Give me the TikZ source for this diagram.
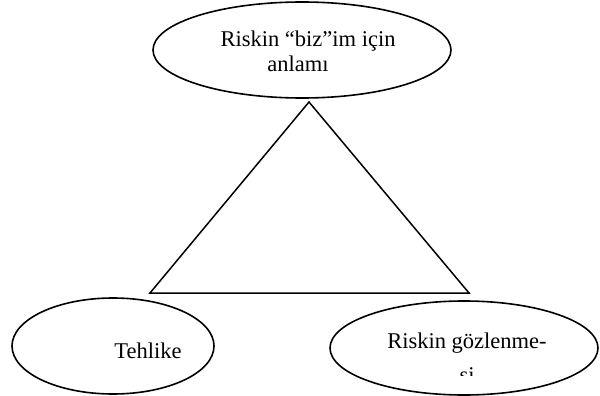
\documentclass[tikz,border=0pt]{standalone}
\usepackage{fontspec}
\setmainfont{Liberation Serif}
\usetikzlibrary{shapes.geometric}
\begin{document}
\begin{tikzpicture}[x=1pt,y=-1pt,
  oval/.style={draw, ellipse, line width=1.6pt, inner sep=0pt},
  lbl/.style={font=\fontsize{22.5}{25}\selectfont, inner sep=0pt, anchor=base}]
\useasboundingbox (0,0) rectangle (600,396);
\node[oval, minimum width=298pt, minimum height=96pt] (top) at (302,50) {};
\node[oval, minimum width=202pt, minimum height=96pt] (left) at (113,346) {};
\node[oval, minimum width=268pt, minimum height=94pt] (right) at (464,348) {};
\node[lbl] (t1) at (308,47) {Riskin “biz”im için};
\node[lbl] (t2) at (298,72) {anlamı};
\node[lbl] (t3) at (148,358) {Tehlike};
\node[lbl] (t4) at (467,348) {Riskin gözlenme-};
\begin{scope}
  \clip (380,360) rectangle (560,375);
  \node[lbl] (t5) at (467,382) {si};
\end{scope}
\coordinate (apex) at (309,102);
\coordinate (bl) at (150,293);
\coordinate (br) at (469,293);
\draw[line width=1.5pt, line join=miter] (apex) -- (bl) -- (br) -- cycle;
\end{tikzpicture}
\end{document}
